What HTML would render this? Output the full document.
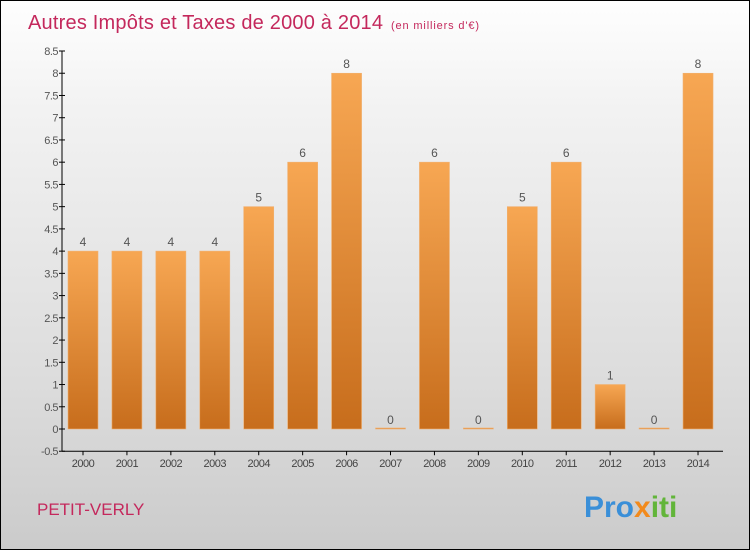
<!DOCTYPE html>
<html><head><meta charset="utf-8"><style>
body{margin:0}
#c{width:750px;height:550px;position:relative;box-sizing:border-box;border:1px solid #000;background:linear-gradient(#fefefe,#f2f2f2 20%,#dcdcdc 70%,#cbcbcb);font-family:"Liberation Sans",sans-serif;overflow:hidden}
</style></head><body>
<div id="c">
<svg width="750" height="550" style="position:absolute;left:0;top:0" id="s">
<defs><linearGradient id="g" x1="0" y1="0" x2="0" y2="1"><stop offset="0" stop-color="#f7a753"/><stop offset="1" stop-color="#c76d1c"/></linearGradient></defs>
<text x="27" y="28" font-size="20" fill="#c4285c" textLength="355">Autres Impôts et Taxes de 2000 à 2014</text>
<text x="390" y="28" font-size="11" fill="#c4285c" textLength="88">(en milliers d'€)</text>
<text x="36" y="514" font-size="17" fill="#c4285c">PETIT-VERLY</text>
<text x="583" y="516" font-size="30" font-weight="bold" fill="#3a8fd8">Pro<tspan fill="#f28a1c">x</tspan><tspan fill="#62b53a">iti</tspan></text>
<g id="plot"></g>
</svg>
</div>
<script>
const years=["2000","2001","2002","2003","2004","2005","2006","2007","2008","2009","2010","2011","2012","2013","2014"];
const values=[4,4,4,4,5,6,8,0,6,0,5,6,1,0,8];
const yTicks=[-0.5,0,0.5,1,1.5,2,2.5,3,3.5,4,4.5,5,5.5,6,6.5,7,7.5,8,8.5];
const NS="http://www.w3.org/2000/svg";
const g=document.getElementById('plot');
const y=v=>428-v*44.47;
const x=i=>82+i*43.93;
function el(t,a,txt){const e=document.createElementNS(NS,t);for(const k in a)e.setAttribute(k,a[k]);if(txt!==undefined)e.textContent=txt;g.appendChild(e);return e;}
let ax=el('line',{x1:61,y1:y(8.5),x2:61,y2:y(-0.5),stroke:'#000'});


let bx=el('line',{x1:61,y1:y(-0.5),x2:722,y2:y(-0.5),stroke:'#000'});


yTicks.forEach(t=>{
 el('line',{x1:58,y1:y(t),x2:64,y2:y(t),stroke:'#000'});
 const l=el('text',{x:57,y:y(t)+4,'font-size':11,fill:'#555','text-anchor':'end','letter-spacing':'-0.5'},String(t));
 
 
});
years.forEach((yr,i)=>{
 const v=values[i];
 const top=y(Math.max(v,0)),h=Math.max(Math.abs(y(0)-y(v)),1);
 const r=el('rect',{x:x(i)-15,y:v>0?top:y(0)-1,width:30,height:h,fill:'url(#g)',stroke:'#f0b070','stroke-width':0.6});
 
 
 const vl=el('text',{x:x(i),y:(v>0?top:y(0))-5,'font-size':12,fill:'#555','text-anchor':'middle'},String(v));
 
 
 el('line',{x1:x(i),y1:y(-0.5),x2:x(i),y2:y(-0.5)+4,stroke:'#000'});
 const xl=el('text',{x:x(i),y:466,'font-size':11,fill:'#444','text-anchor':'middle','letter-spacing':'-0.5'},yr);
 
 
});
</script>
</body></html>
